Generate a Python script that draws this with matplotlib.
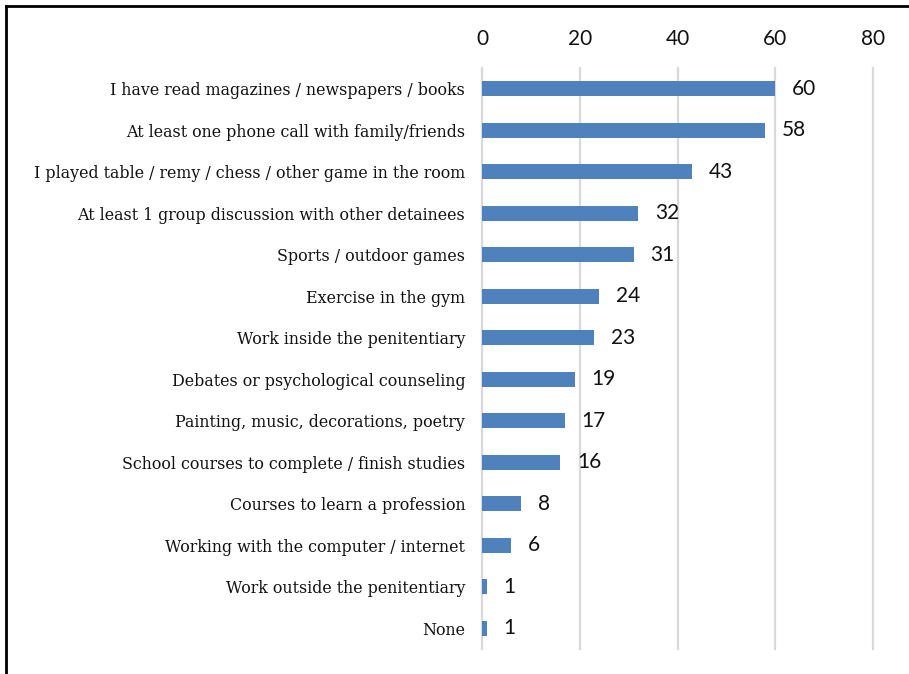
import matplotlib
matplotlib.use("Agg")
import matplotlib.pyplot as plt
from matplotlib.lines import Line2D

categories = [
    "I have read magazines / newspapers / books",
    "At least one phone call with family/friends",
    "I played table / remy / chess / other game in the room",
    "At least 1 group discussion with other detainees",
    "Sports / outdoor games",
    "Exercise in the gym",
    "Work inside the penitentiary",
    "Debates or psychological counseling",
    "Painting, music, decorations, poetry",
    "School courses to complete / finish studies",
    "Courses to learn a profession",
    "Working with the computer / internet",
    "Work outside the penitentiary",
    "None",
]
values = [60, 58, 43, 32, 31, 24, 23, 19, 17, 16, 8, 6, 1, 1]
xticks = [0, 20, 40, 60, 80]

W, H = 909, 674
fig = plt.figure(figsize=(W / 100, H / 100), dpi=100)
ax = fig.add_axes([482 / W, 1 - 649 / H, (873 - 482) / W, (649 - 68) / H])

y = list(range(len(categories)))
ax.barh(y, values, height=0.36, color="#4F81BD", zorder=3)
ax.set_ylim(len(categories) - 0.5, -0.5)
ax.set_xlim(0, 80)
ax.set_xticks(xticks)
ax.set_xticklabels([str(t) for t in xticks], fontfamily="Lato", fontsize=15, color="#111111")
ax.xaxis.tick_top()
ax.tick_params(axis="x", length=0, pad=14)
ax.set_yticks(y)
ax.set_yticklabels(categories, fontfamily="DejaVu Serif", fontsize=11.45, color="#111111")
ax.tick_params(axis="y", length=0, pad=12)
ax.grid(axis="x", color="#D9D9D9", linewidth=1.6, zorder=0)
for gl in ax.get_xgridlines():
    gl.set_clip_on(False)
for s in ax.spines.values():
    s.set_visible(False)

for yi, v in zip(y, values):
    ax.annotate(str(v), (v, yi), xytext=(12, 0), textcoords="offset points",
                va="center", ha="left", fontfamily="Lato", fontsize=15, color="#111111")

# figure border (left and top)
fig.add_artist(Line2D([6 / W, 6 / W], [0, 1 - 6 / H], transform=fig.transFigure, color="black", linewidth=2))
fig.add_artist(Line2D([6 / W, 1], [1 - 6 / H, 1 - 6 / H], transform=fig.transFigure, color="black", linewidth=2))

fig.savefig("out.png", dpi=100)
